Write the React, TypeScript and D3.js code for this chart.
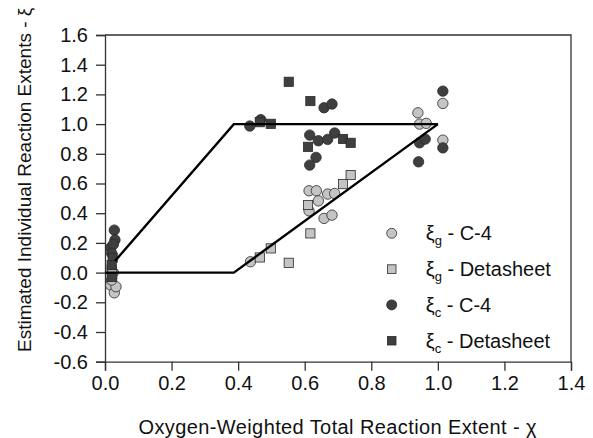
import * as d3 from "d3";
import { useEffect, useRef } from "react";

// xi_g - C-4 (light circles)
const gC4X = [0.017, 0.028, 0.033, 0.02, 0.025, 0.437, 0.613, 0.635, 0.641, 0.669, 0.69, 0.613, 0.658, 0.682, 0.94, 0.945, 0.965, 1.015, 1.015];
const gC4Y = [-0.084, -0.136, -0.095, -0.05, 0.0, 0.073, 0.551, 0.551, 0.483, 0.529, 0.533, 0.416, 0.365, 0.387, 1.076, 1.0, 1.005, 1.139, 0.892];
// xi_g - Detasheet (light squares)
const gDetX = [0.02, 0.022, 0.465, 0.498, 0.552, 0.617, 0.61, 0.715, 0.738];
const gDetY = [0.02, -0.01, 0.102, 0.163, 0.066, 0.264, 0.455, 0.596, 0.657];
// xi_c - C-4 (dark circles)
const cC4X = [0.028, 0.03, 0.017, 0.025, 0.02, 0.435, 0.468, 0.658, 0.682, 0.615, 0.641, 0.669, 0.69, 0.634, 0.615, 1.015, 0.945, 0.962, 1.015, 0.942];
const cC4Y = [0.286, 0.22, 0.167, 0.19, 0.13, 0.987, 1.03, 1.11, 1.135, 0.926, 0.888, 0.897, 0.94, 0.776, 0.724, 1.222, 0.874, 0.899, 0.84, 0.746];
// xi_c - Detasheet (dark squares)
const cDetX = [0.023, 0.02, 0.02, 0.465, 0.498, 0.552, 0.617, 0.61, 0.715, 0.738];
const cDetY = [0.1, 0.05, -0.03, 1.013, 1.002, 1.285, 1.155, 0.847, 0.9, 0.874];

// model lines
const upperX = [0.03, 0.387, 1.0];
const upperY = [0.078, 1.0, 1.0];
const lowerX = [0.0, 0.387, 1.0];
const lowerY = [0.0, 0.0, 1.0];

const xTicks = [0, 0.2, 0.4, 0.6, 0.8, 1.0, 1.2, 1.4];
const yTicks = [-0.6, -0.4, -0.2, 0, 0.2, 0.4, 0.6, 0.8, 1.0, 1.2, 1.4, 1.6];

const LIGHT = "#c4c4c4";
const DARK = "#3f3f3f";
const EDGE = "#2a2a2a";

const App = () => {
  const svgRef = useRef<SVGSVGElement>(null);

  useEffect(() => {
    const dims = { width: 593, height: 438, left: 105, right: 571, top: 35, bottom: 361.7 };
    const font = "Liberation Sans, Arial, sans-serif";
    const fs = 20;

    const x = d3.scaleLinear([0, 1.4], [dims.left, dims.right]);
    const y = d3.scaleLinear([-0.6, 1.6], [dims.bottom, dims.top]);

    svgRef.current!.innerHTML = "";
    const svg = d3
      .select(svgRef.current)
      .attr("width", dims.width)
      .attr("height", dims.height)
      .attr("viewBox", [0, 0, dims.width, dims.height]);

    svg.append("rect").attr("width", dims.width).attr("height", dims.height).attr("fill", "white");

    // frame (top, right)
    svg
      .append("path")
      .attr("d", `M${dims.left},${dims.top}H${dims.right}V${dims.bottom}`)
      .attr("fill", "none")
      .attr("stroke", "#333")
      .attr("stroke-width", 1.3);

    // axes
    svg
      .append("g")
      .attr("transform", `translate(0,${dims.bottom})`)
      .call(d3.axisBottom(x).tickValues(xTicks).tickSize(9).tickPadding(5).tickFormat(d3.format(".1f")))
      .call((g) => {
        g.select("path.domain").attr("stroke", "#333").attr("stroke-width", 1.3);
        g.selectAll(".tick line").attr("stroke", "#333").attr("stroke-width", 1.3);
        g.selectAll(".tick text").attr("font-size", fs).attr("font-family", font).attr("fill", "#111");
      });

    svg
      .append("g")
      .attr("transform", `translate(${dims.left},0)`)
      .call(d3.axisLeft(y).tickValues(yTicks).tickSize(9).tickPadding(8).tickFormat(d3.format(".1f")))
      .call((g) => {
        g.select("path.domain").attr("stroke", "#333").attr("stroke-width", 1.3);
        g.selectAll(".tick line").attr("stroke", "#333").attr("stroke-width", 1.3);
        g.selectAll(".tick text")
          .attr("font-size", fs)
          .attr("font-family", font)
          .attr("fill", "#111")
          .text((d: any) => d3.format(".1f")(d).replace("−", "-"));
      });

    const plot = svg.append("g");

    const circles = (xs: number[], ys: number[], fill: string) =>
      plot
        .append("g")
        .selectAll("circle")
        .data(xs.map((v, i) => [v, ys[i]]))
        .join("circle")
        .attr("cx", (d) => x(d[0]))
        .attr("cy", (d) => y(d[1]))
        .attr("r", 5.2)
        .attr("fill", fill)
        .attr("stroke", EDGE)
        .attr("stroke-width", 0.8);

    const squares = (xs: number[], ys: number[], fill: string) =>
      plot
        .append("g")
        .selectAll("rect")
        .data(xs.map((v, i) => [v, ys[i]]))
        .join("rect")
        .attr("x", (d) => x(d[0]) - 4.6)
        .attr("y", (d) => y(d[1]) - 4.6)
        .attr("width", 9.2)
        .attr("height", 9.2)
        .attr("fill", fill)
        .attr("stroke", EDGE)
        .attr("stroke-width", 0.8);

    circles(gC4X, gC4Y, LIGHT);
    squares(gDetX, gDetY, LIGHT);
    circles(cC4X, cC4Y, DARK);
    squares(cDetX, cDetY, DARK);

    // model lines drawn over the markers
    const drawLine = (xs: number[], ys: number[]) =>
      plot
        .append("path")
        .datum(xs.map((v, i) => [v, ys[i]] as [number, number]))
        .attr("d", d3.line<[number, number]>().x((d) => x(d[0])).y((d) => y(d[1])))
        .attr("fill", "none")
        .attr("stroke", "#000")
        .attr("stroke-width", 2.4);

    drawLine(upperX, upperY);
    drawLine(lowerX, lowerY);

    // legend
    const legend = [
      { sub: "g", label: " - C-4", fill: LIGHT, shape: "circle" },
      { sub: "g", label: " - Detasheet", fill: LIGHT, shape: "square" },
      { sub: "c", label: " - C-4", fill: DARK, shape: "circle" },
      { sub: "c", label: " - Detasheet", fill: DARK, shape: "square" },
    ];
    const lg = svg.append("g").attr("transform", "translate(391.7,233.3)");
    legend.forEach((d, i) => {
      const row = lg.append("g").attr("transform", `translate(0,${i * 35.8})`);
      if (d.shape === "circle") {
        row.append("circle").attr("r", 5).attr("fill", d.fill).attr("stroke", EDGE).attr("stroke-width", 0.8);
      } else {
        row.append("rect").attr("x", -4.3).attr("y", -4.3).attr("width", 8.6).attr("height", 8.6)
          .attr("fill", d.fill).attr("stroke", EDGE).attr("stroke-width", 0.8);
      }
      const t = row.append("text").attr("x", 34).attr("y", 7).attr("font-size", fs).attr("font-family", font).attr("fill", "#111");
      t.append("tspan").text("ξ");
      t.append("tspan").attr("font-size", 13).attr("dy", 5).text(d.sub);
      t.append("tspan").attr("dy", -5).text(d.label);
    });

    // axis titles
    svg
      .append("text")
      .attr("x", 337.5)
      .attr("y", 434)
      .attr("text-anchor", "middle")
      .attr("font-size", fs)
      .attr("font-family", font)
      .attr("fill", "#111")
      .attr("textLength", 398)
      .attr("lengthAdjust", "spacing")
      .text("Oxygen-Weighted Total Reaction Extent - χ");

    svg
      .append("text")
      .attr("transform", "translate(31,352) rotate(-90)")
      .attr("text-anchor", "start")
      .attr("font-size", 19)
      .attr("font-family", font)
      .attr("fill", "#111")
      .text("Estimated Individual Reaction Extents - ξ");
  }, []);

  return <svg ref={svgRef} style={{ position: "absolute", left: 0, top: 0, display: "block" }} />;
};

export default App;
